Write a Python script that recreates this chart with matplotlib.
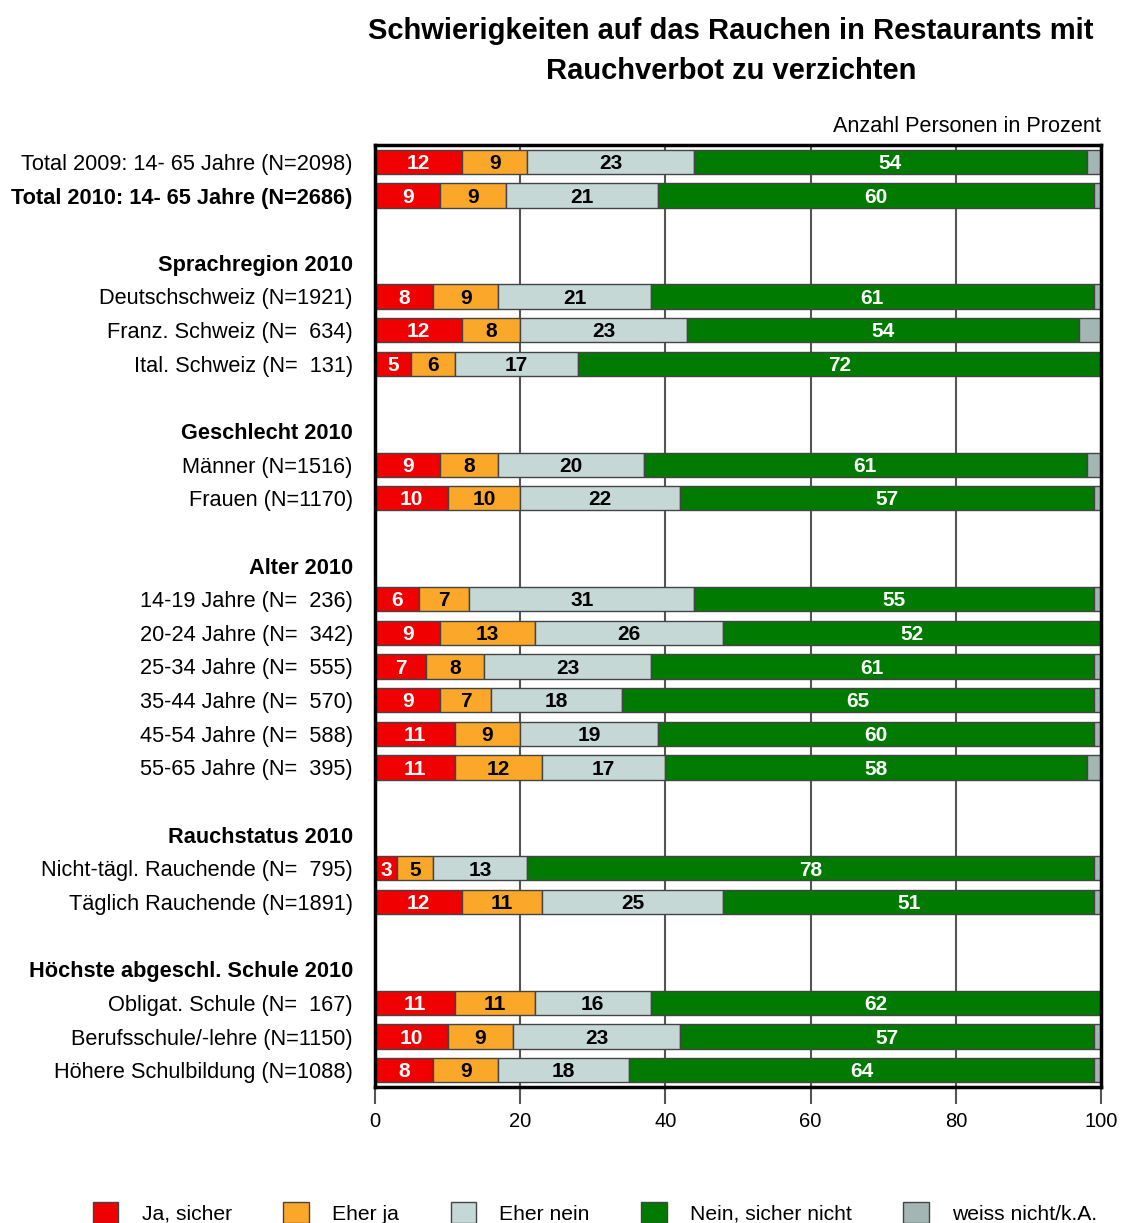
import numpy as np
import matplotlib
matplotlib.use("Agg")
from matplotlib import pyplot as plt

plt.rcParams['font.family'] = ['Liberation Sans', 'DejaVu Sans']

# row labels ("" -> empty row), headers are bold
labels = [
    "Total 2009: 14- 65 Jahre (N=2098)",
    "Total 2010: 14- 65 Jahre (N=2686)",
    "",
    "Sprachregion 2010",
    "Deutschschweiz (N=1921)",
    "Franz. Schweiz (N=  634)",
    "Ital. Schweiz (N=  131)",
    "",
    "Geschlecht 2010",
    "Männer (N=1516)",
    "Frauen (N=1170)",
    "",
    "Alter 2010",
    "14-19 Jahre (N=  236)",
    "20-24 Jahre (N=  342)",
    "25-34 Jahre (N=  555)",
    "35-44 Jahre (N=  570)",
    "45-54 Jahre (N=  588)",
    "55-65 Jahre (N=  395)",
    "",
    "Rauchstatus 2010",
    "Nicht-tägl. Rauchende (N=  795)",
    "Täglich Rauchende (N=1891)",
    "",
    "Höchste abgeschl. Schule 2010",
    "Obligat. Schule (N=  167)",
    "Berufsschule/-lehre (N=1150)",
    "Höhere Schulbildung (N=1088)",
]
bold_rows = [1, 3, 8, 12, 20, 24]
data_rows = [0, 1, 4, 5, 6, 9, 10, 13, 14, 15, 16, 17, 18, 21, 22, 25, 26, 27]

ja_sicher = [12, 9, 8, 12, 5, 9, 10, 6, 9, 7, 9, 11, 11, 3, 12, 11, 10, 8]
eher_ja = [9, 9, 9, 8, 6, 8, 10, 7, 13, 8, 7, 9, 12, 5, 11, 11, 9, 9]
eher_nein = [23, 21, 21, 23, 17, 20, 22, 31, 26, 23, 18, 19, 17, 13, 25, 16, 23, 18]
nein_sicher = [54, 60, 61, 54, 72, 61, 57, 55, 52, 61, 65, 60, 58, 78, 51, 62, 57, 64]
weiss_nicht = [2, 1, 1, 3, 0, 2, 1, 1, 0, 1, 1, 1, 2, 1, 1, 0, 1, 1]

series = [ja_sicher, eher_ja, eher_nein, nein_sicher, weiss_nicht]
names = ["Ja, sicher", "Eher ja", "Eher nein", "Nein, sicher nicht", "weiss nicht/k.A."]
colors = ["#F00000", "#FBA72A", "#C5D8D6", "#007A00", "#A4B6B4"]
text_colors = ["white", "black", "black", "white", None]

fig = plt.figure(figsize=(11.21, 12.23), dpi=100)
ax = fig.add_axes([0.3345, 0.1112, 0.6477, 0.7702])

y = np.array(data_rows)
left = np.zeros(len(data_rows))
handles = []
for vals, name, col, tcol in zip(series, names, colors, text_colors):
    vals = np.array(vals, dtype=float)
    b = ax.barh(y, vals, left=left, height=0.72, color=col, edgecolor="#444444",
                linewidth=1, label=name, zorder=3)
    handles.append(b)
    if tcol is not None:
        for yi, l, v in zip(y, left, vals):
            if v > 0:
                ax.text(l + v / 2, yi + 0.05, f"{int(v)}", ha="center", va="center",
                        color=tcol, fontsize=15, fontweight="bold", zorder=4)
    left += vals

ax.set_xlim(0, 100)
ax.set_ylim(27.5, -0.5)
ax.set_xticks([0, 20, 40, 60, 80, 100])
ax.tick_params(axis="x", labelsize=14.5, length=12, width=1.5, color="#555555", pad=6)
ax.set_yticks(range(len(labels)))
ax.set_yticklabels(labels, fontsize=15.7)
ax.tick_params(axis="y", length=0, pad=16)
for i, t in enumerate(ax.get_yticklabels()):
    if i in bold_rows:
        t.set_fontweight("bold")

for x in [20, 40, 60, 80]:
    ax.axvline(x, color="#555555", linewidth=1.5, zorder=1)
for s in ax.spines.values():
    s.set_linewidth(2.5)
    s.set_color("black")
    s.set_zorder(5)

ax.text(100, -0.75, "Anzahl Personen in Prozent", ha="right", va="bottom", fontsize=15.6)

fig.text(0.652, 0.986, "Schwierigkeiten auf das Rauchen in Restaurants mit\nRauchverbot zu verzichten",
         ha="center", va="top", fontsize=21, fontweight="bold", linespacing=1.52)

fig.legend(handles=handles, labels=names, loc="upper left", bbox_to_anchor=(0.083, 0.0175),
           ncol=5, frameon=False, fontsize=15.2, handlelength=1.2, handleheight=1.2,
           handletextpad=1.1, columnspacing=2.45, borderpad=0, borderaxespad=0)

fig.savefig("out.png", dpi=100)
